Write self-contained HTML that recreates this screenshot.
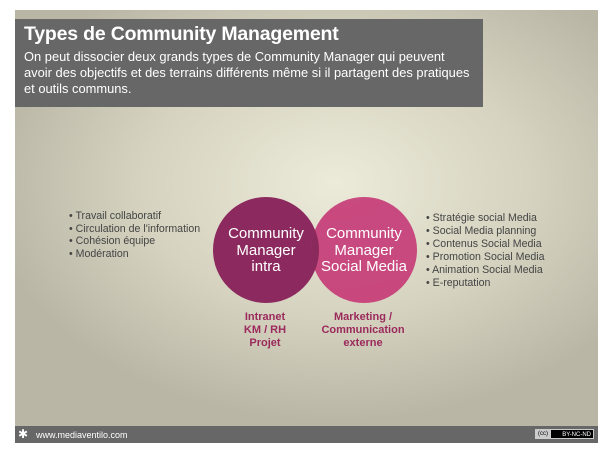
<!DOCTYPE html>
<html><head><meta charset="utf-8"><style>
body{margin:0;width:605px;height:453px;background:#fff;position:relative;overflow:hidden;font-family:"Liberation Sans",sans-serif}
#s{position:absolute;left:15px;top:10px;width:583px;height:433px;background:radial-gradient(ellipse 60% 55% at 55% 40%,#ecead9 0%,#d6d3c0 55%,#b9b6a6 100%)}
#t{position:absolute;left:15px;top:19px;width:468px;height:88px;background:#676767;color:#fff}
#t h1{margin:0;position:absolute;left:9px;top:4px;font-size:19.5px;font-weight:bold;letter-spacing:-0.2px}
#t p{margin:0;position:absolute;left:9px;top:30px;font-size:12.9px;line-height:16px;white-space:nowrap}
.b{position:absolute;font-size:10.6px;color:#444;line-height:12.6px}
.l{position:absolute;font-size:11px;font-weight:bold;color:#9b2a5c;text-align:center;line-height:13px}
.c{position:absolute;color:#fff;font-size:15px;text-align:center;line-height:16.5px}
#f{position:absolute;left:15px;top:426px;width:583px;height:17px;background:#676767;color:#fff;font-size:9px}
</style></head><body>
<div id="s"></div>
<div id="t"><h1>Types de Community Management</h1><p>On peut dissocier deux grands types de Community Manager qui peuvent<br>avoir des objectifs et des terrains différents même si il partagent des pratiques<br>et outils communs.</p></div>
<svg style="position:absolute;left:0;top:0" width="605" height="453">
<circle cx="266" cy="250" r="53" fill="#8c2a5f"/>
<circle cx="364" cy="250" r="53" fill="#c63d78" opacity="0.93"/>
<clipPath id="k"><circle cx="266" cy="250" r="53"/></clipPath>
<circle cx="364" cy="250" r="53" fill="#8a2a5c" clip-path="url(#k)"/>
</svg>
<div class="c" style="left:214px;top:226px;width:104px">Community<br>Manager<br>intra</div>
<div class="c" style="left:311px;top:226px;width:106px">Community<br>Manager<br>Social Media</div>
<div class="b" style="left:69px;top:210px">• Travail collaboratif<br>• Circulation de l'information<br>• Cohésion équipe<br>• Modération</div>
<div class="b" style="left:426px;top:212px;line-height:13px">• Stratégie social Media<br>• Social Media planning<br>• Contenus Social Media<br>• Promotion Social Media<br>• Animation Social Media<br>• E-reputation</div>
<div class="l" style="left:225px;top:311px;width:80px">Intranet<br>KM / RH<br>Projet</div>
<div class="l" style="left:313px;top:311px;width:100px">Marketing /<br>Communication<br>externe</div>
<div id="f"><span style="position:absolute;left:3px;top:1px;font-size:12px">✱</span><span style="position:absolute;left:21px;top:4px">www.mediaventilo.com</span><span style="position:absolute;right:4px;top:3px;width:58px;height:10px;background:#000;border:1px solid #ccc;font-size:6px;line-height:10px;text-align:right;padding-right:2px;box-sizing:border-box">BY-NC-ND</span><span style="position:absolute;right:47px;top:3px;width:16px;height:10px;background:#ccc;color:#000;font-size:6px;line-height:10px;text-align:center">(cc)</span></div>
</body></html>
